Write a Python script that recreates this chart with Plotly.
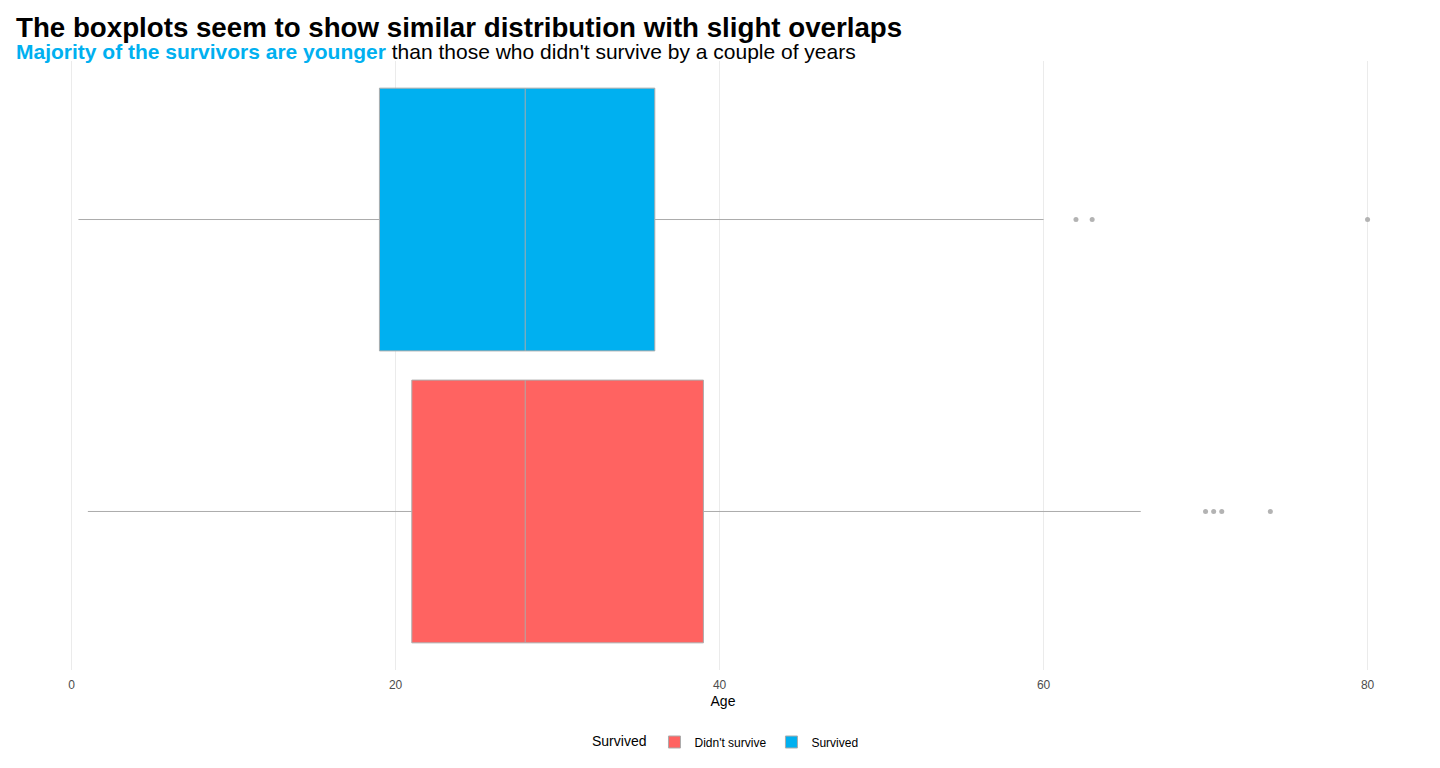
import plotly.graph_objects as go

# ── Data (Titanic age by survival) ───────────────────
groups = ["Didn't survive", "Survived"]
colors = ["#FF6361", "#00B0F0"]
q1 = [21, 19]
median = [28, 28]
q3 = [39, 36]
lower_fence = [1, 0.42]
upper_fence = [66, 60]
outliers = [[70, 70.5, 71, 74], [62, 63, 80]]

x_ticks = [0, 20, 40, 60, 80]

title = "The boxplots seem to show similar distribution with slight overlaps"
subtitle = ("<b><span style='color:#00B0F0'>Majority of the survivors are younger</span></b>"
            " than those who didn't survive by a couple of years")

# page body has an 8px margin, so the figure is sized / placed to compensate
W, H = 1424, 752

# ── Figure ────────────────────────────────────────────
fig = go.Figure()

for i, g in enumerate(groups):
    fig.add_trace(go.Box(
        y=[g],
        q1=[q1[i]],
        median=[median[i]],
        q3=[q3[i]],
        lowerfence=[lower_fence[i]],
        upperfence=[upper_fence[i]],
        orientation="h",
        name=g,
        width=0.9,
        whiskerwidth=0,
        fillcolor=colors[i],
        line=dict(color="#ABABAB", width=1),
        legendgroup=g,
        hoverinfo="skip",
    ))
    fig.add_trace(go.Scatter(
        x=outliers[i],
        y=[g] * len(outliers[i]),
        mode="markers",
        marker=dict(color="#B3B3B3", size=5),
        showlegend=False,
        legendgroup=g,
        hoverinfo="skip",
    ))

plot_h = 662 - 53
L = 6

fig.update_layout(
    width=W,
    height=H,
    paper_bgcolor="white",
    plot_bgcolor="white",
    margin=dict(l=L, r=0, t=53, b=H - 662),
    boxmode="overlay",
    font=dict(family="Liberation Sans, Arial, sans-serif", color="black"),
    title=dict(
        text="<b>" + title + "</b>",
        x=8 / W, xanchor="left", xref="container",
        y=1 - 19 / H, yanchor="middle", yref="container",
        font=dict(size=27.7, color="black"),
    ),
    annotations=[dict(
        text=subtitle,
        xref="paper", yref="paper",
        x=(6 - L) / (W - L), xanchor="left",
        y=1 + 10 / plot_h, yanchor="middle",
        showarrow=False,
        font=dict(size=21, color="black"),
    )],
    xaxis=dict(
        range=[-3.559, 83.979],
        tickvals=x_ticks,
        showgrid=True,
        gridcolor="#EBEBEB",
        gridwidth=1,
        zeroline=False,
        showline=False,
        ticks="",
        ticklabelstandoff=6,
        tickfont=dict(size=12, color="#4D4D4D"),
        title=dict(text="Age", font=dict(size=14, color="black"), standoff=5),
    ),
    yaxis=dict(
        type="category",
        categoryorder="array",
        categoryarray=groups,
        range=[-0.543, 1.543],
        showticklabels=False,
        showgrid=False,
        zeroline=False,
        showline=False,
        ticks="",
    ),
    legend=dict(
        orientation="h",
        x=0.5 + 4 / (W - L), xanchor="center",
        y=-72 / plot_h, yanchor="middle",
        title=dict(text="Survived", font=dict(size=14)),
        font=dict(size=12),
        itemclick=False,
    ),
)

fig.write_html("out.html")
